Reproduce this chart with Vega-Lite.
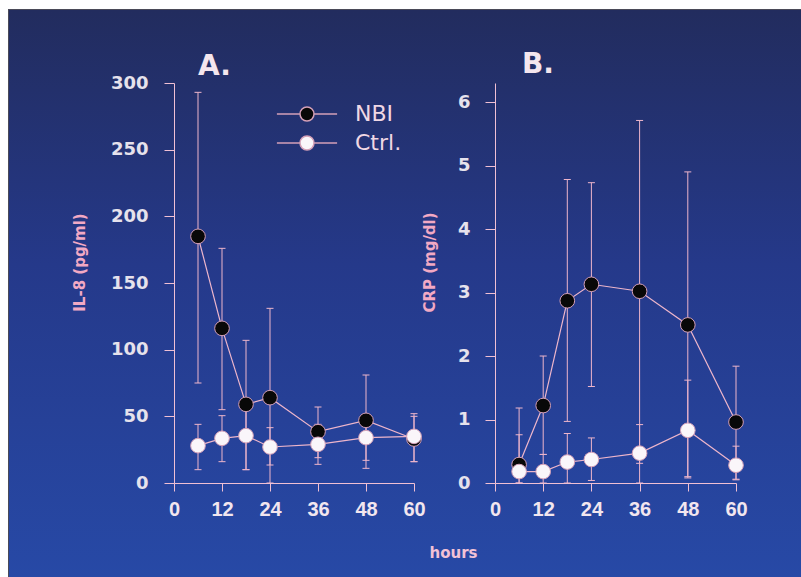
{
  "$schema": "https://vega.github.io/schema/vega-lite/v6.json",
  "width": 792,
  "height": 567,
  "padding": {"left": 9, "top": 10, "right": 0, "bottom": 0},
  "autosize": {"type": "none"},
  "background": "white",
  "config": {
    "view": {"stroke": "#4a4a58", "strokeWidth": 2},
    "axis": {"grid": false, "labelFlush": false, "labelOverlap": false, "domainColor": "#f0c0d4", "tickColor": "#f0c0d4", "domainWidth": 1, "tickWidth": 1}
  },
  "datasets": {
    "bg": [{"k": 1}],
    "il8": [
      {"group": "NBI", "hours": 6, "mean": 185, "lo": 75, "hi": 293},
      {"group": "NBI", "hours": 12, "mean": 116, "lo": 55, "hi": 176},
      {"group": "NBI", "hours": 18, "mean": 59, "lo": 10, "hi": 107},
      {"group": "NBI", "hours": 24, "mean": 64, "lo": 0, "hi": 131},
      {"group": "NBI", "hours": 36, "mean": 38.5, "lo": 19, "hi": 57},
      {"group": "NBI", "hours": 48, "mean": 47, "lo": 11, "hi": 81},
      {"group": "NBI", "hours": 60, "mean": 33, "lo": 16, "hi": 52},
      {"group": "Ctrl.", "hours": 6, "mean": 28, "lo": 10, "hi": 44},
      {"group": "Ctrl.", "hours": 12, "mean": 33.5, "lo": 16, "hi": 50.5},
      {"group": "Ctrl.", "hours": 18, "mean": 35.5, "lo": 10, "hi": 55},
      {"group": "Ctrl.", "hours": 24, "mean": 27, "lo": 13.5, "hi": 41.5},
      {"group": "Ctrl.", "hours": 36, "mean": 29, "lo": 14, "hi": 44},
      {"group": "Ctrl.", "hours": 48, "mean": 34, "lo": 17, "hi": 50},
      {"group": "Ctrl.", "hours": 60, "mean": 35, "lo": 16, "hi": 50}
    ],
    "crp": [
      {"group": "NBI", "hours": 6, "mean": 0.29, "lo": 0, "hi": 1.18},
      {"group": "NBI", "hours": 12, "mean": 1.22, "lo": 0.45, "hi": 2.0},
      {"group": "NBI", "hours": 18, "mean": 2.87, "lo": 0.97, "hi": 4.78},
      {"group": "NBI", "hours": 24, "mean": 3.13, "lo": 1.52, "hi": 4.73},
      {"group": "NBI", "hours": 36, "mean": 3.02, "lo": 0, "hi": 5.71},
      {"group": "NBI", "hours": 48, "mean": 2.49, "lo": 0.08, "hi": 4.9},
      {"group": "NBI", "hours": 60, "mean": 0.96, "lo": 0.05, "hi": 1.84},
      {"group": "Ctrl.", "hours": 6, "mean": 0.18, "lo": 0, "hi": 0.76},
      {"group": "Ctrl.", "hours": 12, "mean": 0.18, "lo": 0, "hi": 0.45},
      {"group": "Ctrl.", "hours": 18, "mean": 0.33, "lo": 0, "hi": 0.78},
      {"group": "Ctrl.", "hours": 24, "mean": 0.37, "lo": 0.04, "hi": 0.71},
      {"group": "Ctrl.", "hours": 36, "mean": 0.47, "lo": 0.31, "hi": 0.92},
      {"group": "Ctrl.", "hours": 48, "mean": 0.83, "lo": 0.1, "hi": 1.62},
      {"group": "Ctrl.", "hours": 60, "mean": 0.28, "lo": 0.06, "hi": 0.58}
    ]
  },
  "layer": [
    {
      "data": {"name": "bg"},
      "mark": {"type": "rect", "color": {"gradient": "linear", "x1": 0, "y1": 0, "x2": 0, "y2": 1, "stops": [{"offset": 0, "color": "#222c5e"}, {"offset": 0.45, "color": "#25398a"}, {"offset": 1, "color": "#2749a6"}]}},
      "encoding": {}
    },
    {
      "data": {"name": "il8"},
      "mark": {"type": "rule", "color": "#eeb6cb", "strokeWidth": 1},
      "encoding": {
        "x": {"field": "hours", "type": "quantitative", "scale": {"domain": [0, 60], "range": [165, 405], "nice": false, "zero": false},
          "axis": {"zindex": 1, "orient": "bottom", "offset": -94, "values": [0, 12, 24, 36, 48, 60], "tickSize": 8, "labelPadding": 8, "labelFont": "Liberation Sans", "labelFontSize": 20, "labelFontWeight": "bold", "labelColor": "#f2e6ef",
            "title": "hours", "titleX": 444, "titleY": 74, "titleAlign": "center", "titleBaseline": "alphabetic", "titleAnchor": "start", "titleFont": "DejaVu Sans", "titleFontSize": 15, "titleFontWeight": "bold", "titleColor": "#f2c2d6"}},
        "y": {"field": "lo", "type": "quantitative", "scale": {"domain": [0, 300], "range": [473, 73], "nice": false},
          "axis": {"zindex": 1, "orient": "left", "offset": -165, "values": [0, 50, 100, 150, 200, 250, 300], "tickSize": 10, "labelPadding": 16, "labelFont": "DejaVu Sans", "labelFontSize": 18, "labelFontWeight": "bold", "labelColor": "#e6e2ec",
            "title": "IL-8 (pg/ml)", "titleX": -90, "titleY": 252, "titleAngle": 270, "titleAlign": "center", "titleBaseline": "alphabetic", "titleFont": "DejaVu Sans", "titleFontSize": 15, "titleFontWeight": "bold", "titleColor": "#f2a9c4"}},
        "y2": {"field": "hi"}
      }
    },
    {
      "data": {"name": "il8"},
      "mark": {"type": "tick", "orient": "horizontal", "color": "#eeb6cb", "size": 7, "thickness": 1, "opacity": 1},
      "encoding": {
        "x": {"field": "hours", "type": "quantitative", "scale": {"domain": [0, 60], "range": [165, 405], "nice": false, "zero": false}, "axis": null},
        "y": {"field": "lo", "type": "quantitative", "scale": {"domain": [0, 300], "range": [473, 73], "nice": false}, "axis": null}
      }
    },
    {
      "data": {"name": "il8"},
      "mark": {"type": "tick", "orient": "horizontal", "color": "#eeb6cb", "size": 7, "thickness": 1, "opacity": 1},
      "encoding": {
        "x": {"field": "hours", "type": "quantitative", "scale": {"domain": [0, 60], "range": [165, 405], "nice": false, "zero": false}, "axis": null},
        "y": {"field": "hi", "type": "quantitative", "scale": {"domain": [0, 300], "range": [473, 73], "nice": false}, "axis": null}
      }
    },
    {
      "data": {"name": "il8"},
      "mark": {"type": "line", "color": "#eeb6cb", "strokeWidth": 1.2},
      "encoding": {
        "x": {"field": "hours", "type": "quantitative", "scale": {"domain": [0, 60], "range": [165, 405], "nice": false, "zero": false}, "axis": null},
        "y": {"field": "mean", "type": "quantitative", "scale": {"domain": [0, 300], "range": [473, 73], "nice": false}, "axis": null},
        "detail": {"field": "group"}
      }
    },
    {
      "data": {"name": "il8"},
      "mark": {"type": "point", "shape": "circle", "filled": true, "opacity": 1, "size": 215, "stroke": "#d4a0b8", "strokeWidth": 1},
      "encoding": {
        "x": {"field": "hours", "type": "quantitative", "scale": {"domain": [0, 60], "range": [165, 405], "nice": false, "zero": false}, "axis": null},
        "y": {"field": "mean", "type": "quantitative", "scale": {"domain": [0, 300], "range": [473, 73], "nice": false}, "axis": null},
        "fill": {"field": "group", "type": "nominal", "scale": {"domain": ["NBI", "Ctrl."], "range": ["#080808", "#faf6fa"]},
          "legend": {"title": null, "orient": "none", "legendX": 287, "legendY": 93, "symbolType": "M-4.3,0L-1,0M1,0L4.3,0M-1,0A1,1,0,1,1,1,0A1,1,0,1,1,-1,0Z", "symbolSize": 196, "padding": 0, "rowPadding": 7, "labelOffset": 37, "labelFont": "DejaVu Sans", "labelFontSize": 22, "labelColor": "#f0d8e4", "labelBaseline": "middle",
            "encode": {"symbols": {"update": {"stroke": {"value": "#eeb6cb"}, "strokeWidth": {"value": 1}, "opacity": {"value": 1}}}}}}
      }
    },
    {
      "data": {"values": [{"label": "A."}]},
      "mark": {"type": "text", "align": "left", "baseline": "alphabetic", "font": "DejaVu Sans", "fontSize": 28, "fontWeight": "bold", "color": "#f4e6ee"},
      "encoding": {
        "x": {"datum": 6, "type": "quantitative", "scale": {"domain": [0, 60], "range": [165, 405], "nice": false, "zero": false}, "axis": null},
        "y": {"datum": 306, "type": "quantitative", "scale": {"domain": [0, 300], "range": [473, 73], "nice": false}, "axis": null},
        "text": {"field": "label"}
      }
    },
    {
      "data": {"name": "crp"},
      "mark": {"type": "rule", "color": "#eeb6cb", "strokeWidth": 1},
      "encoding": {
        "x": {"field": "hours", "type": "quantitative", "scale": {"domain": [0, 60], "range": [486, 727], "nice": false, "zero": false},
          "axis": {"zindex": 1, "orient": "bottom", "offset": -94, "values": [0, 12, 24, 36, 48, 60], "tickSize": 8, "labelPadding": 8, "labelFont": "Liberation Sans", "labelFontSize": 20, "labelFontWeight": "bold", "labelColor": "#f2e6ef", "title": null}},
        "y": {"field": "lo", "type": "quantitative", "scale": {"domain": [0, 6.3], "range": [473, 73], "nice": false},
          "axis": {"zindex": 1, "orient": "left", "offset": -486, "values": [0, 1, 2, 3, 4, 5, 6], "tickSize": 10, "labelPadding": 15, "labelFont": "DejaVu Sans", "labelFontSize": 18, "labelFontWeight": "bold", "labelColor": "#e6e2ec",
            "title": "CRP (mg/dl)", "titleX": -61, "titleY": 252, "titleAngle": 270, "titleAlign": "center", "titleBaseline": "alphabetic", "titleFont": "DejaVu Sans", "titleFontSize": 15, "titleFontWeight": "bold", "titleColor": "#f2a9c4"}},
        "y2": {"field": "hi"}
      }
    },
    {
      "data": {"name": "crp"},
      "mark": {"type": "tick", "orient": "horizontal", "color": "#eeb6cb", "size": 7, "thickness": 1, "opacity": 1},
      "encoding": {
        "x": {"field": "hours", "type": "quantitative", "scale": {"domain": [0, 60], "range": [486, 727], "nice": false, "zero": false}, "axis": null},
        "y": {"field": "lo", "type": "quantitative", "scale": {"domain": [0, 6.3], "range": [473, 73], "nice": false}, "axis": null}
      }
    },
    {
      "data": {"name": "crp"},
      "mark": {"type": "tick", "orient": "horizontal", "color": "#eeb6cb", "size": 7, "thickness": 1, "opacity": 1},
      "encoding": {
        "x": {"field": "hours", "type": "quantitative", "scale": {"domain": [0, 60], "range": [486, 727], "nice": false, "zero": false}, "axis": null},
        "y": {"field": "hi", "type": "quantitative", "scale": {"domain": [0, 6.3], "range": [473, 73], "nice": false}, "axis": null}
      }
    },
    {
      "data": {"name": "crp"},
      "mark": {"type": "line", "color": "#eeb6cb", "strokeWidth": 1.2},
      "encoding": {
        "x": {"field": "hours", "type": "quantitative", "scale": {"domain": [0, 60], "range": [486, 727], "nice": false, "zero": false}, "axis": null},
        "y": {"field": "mean", "type": "quantitative", "scale": {"domain": [0, 6.3], "range": [473, 73], "nice": false}, "axis": null},
        "detail": {"field": "group"}
      }
    },
    {
      "data": {"name": "crp"},
      "mark": {"type": "point", "shape": "circle", "filled": true, "opacity": 1, "size": 215, "stroke": "#d4a0b8", "strokeWidth": 1},
      "encoding": {
        "x": {"field": "hours", "type": "quantitative", "scale": {"domain": [0, 60], "range": [486, 727], "nice": false, "zero": false}, "axis": null},
        "y": {"field": "mean", "type": "quantitative", "scale": {"domain": [0, 6.3], "range": [473, 73], "nice": false}, "axis": null},
        "fill": {"field": "group", "type": "nominal", "scale": {"domain": ["NBI", "Ctrl."], "range": ["#080808", "#faf6fa"]},
          "legend": {"title": null, "orient": "none", "legendX": 287, "legendY": 93, "symbolType": "M-4.3,0L-1,0M1,0L4.3,0M-1,0A1,1,0,1,1,1,0A1,1,0,1,1,-1,0Z", "symbolSize": 196, "padding": 0, "rowPadding": 7, "labelOffset": 37, "labelFont": "DejaVu Sans", "labelFontSize": 22, "labelColor": "#f0d8e4", "labelBaseline": "middle",
            "encode": {"symbols": {"update": {"stroke": {"value": "#eeb6cb"}, "strokeWidth": {"value": 1}, "opacity": {"value": 1}}}}}}
      }
    },
    {
      "data": {"values": [{"label": "B."}]},
      "mark": {"type": "text", "align": "left", "baseline": "alphabetic", "font": "DejaVu Sans", "fontSize": 28, "fontWeight": "bold", "color": "#f4e6ee"},
      "encoding": {
        "x": {"datum": 6.7, "type": "quantitative", "scale": {"domain": [0, 60], "range": [486, 727], "nice": false, "zero": false}, "axis": null},
        "y": {"datum": 6.46, "type": "quantitative", "scale": {"domain": [0, 6.3], "range": [473, 73], "nice": false}, "axis": null},
        "text": {"field": "label"}
      }
    }
  ],
  "resolve": {"scale": {"x": "independent", "y": "independent"}, "axis": {"x": "independent", "y": "independent"}}
}
